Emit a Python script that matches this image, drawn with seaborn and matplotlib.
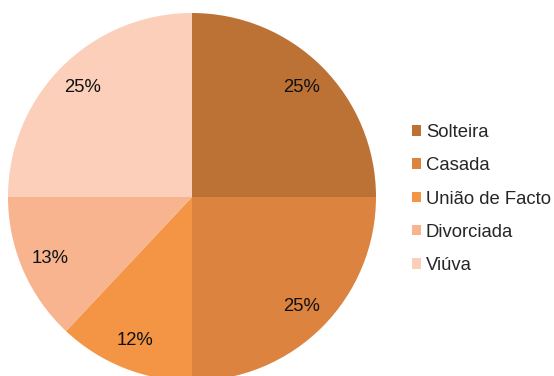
import matplotlib
matplotlib.use("Agg")
import matplotlib.pyplot as plt
import seaborn as sns

# Estado civil das inquiridas
categories = ["Solteira", "Casada", "União de Facto", "Divorciada", "Viúva"]
percentages = [25, 25, 12, 13, 25]
colors = ["#BC7235", "#DB833F", "#F49545", "#F7B48F", "#FBCFB9"]

sns.set_theme(style="white")
plt.rcParams["font.family"] = ["Liberation Sans", "DejaVu Sans"]

W, H = 554, 376
fig = plt.figure(figsize=(W / 100, H / 100), dpi=100)
# axes sized so that the pie circle spans the chosen pixel box
ax = fig.add_axes([8 / W, -5 / H, 368 / W, 368 / H])

wedges, texts, autotexts = ax.pie(
    percentages,
    colors=sns.color_palette(colors),
    startangle=90,
    counterclock=False,
    radius=1,
    autopct=lambda p: f"{p:.0f}%",
    pctdistance=0.84,
    wedgeprops=dict(linewidth=0),
    textprops=dict(fontsize=13.3, color="#111111"),
)
ax.set_xlim(-1, 1)
ax.set_ylim(-1, 1)
ax.set_aspect("equal")
ax.axis("off")

fig.legend(
    wedges,
    categories,
    loc="center left",
    bbox_to_anchor=(412 / W, 1 - 199 / H),
    frameon=False,
    fontsize=13.3,
    handlelength=0.5,
    handleheight=0.5,
    handletextpad=0.25,
    labelspacing=0.88,
    borderaxespad=0,
    borderpad=0,
)

fig.savefig("out.png", dpi=100)
